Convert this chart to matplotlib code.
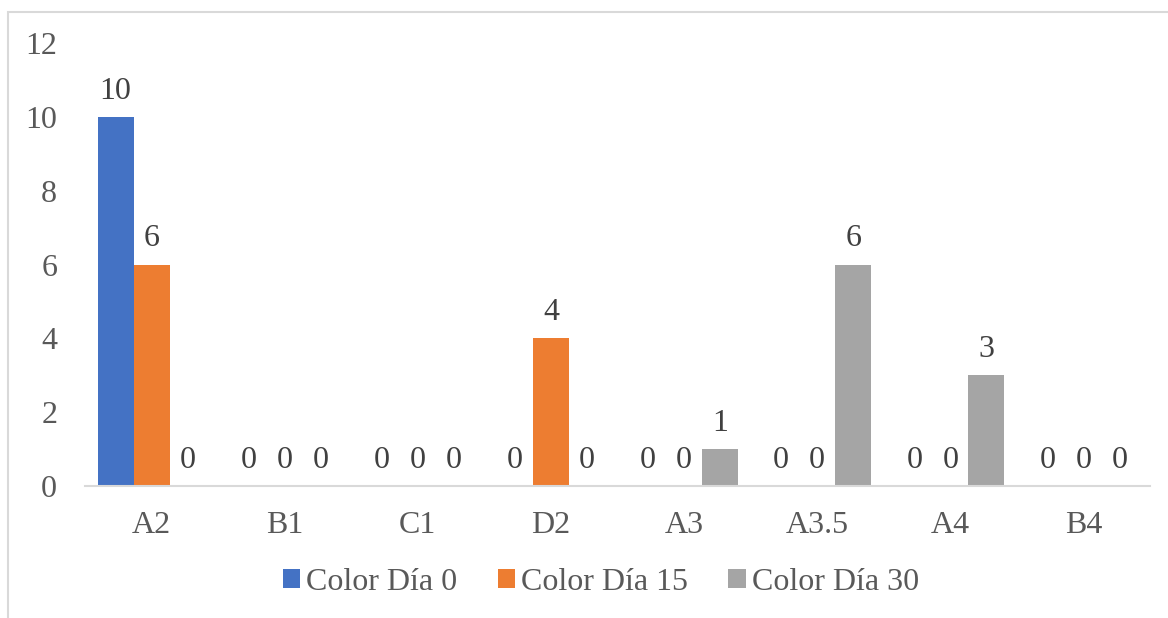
import matplotlib.pyplot as plt
import numpy as np
from matplotlib.patches import Rectangle

# color scores per sample at each day
categories = ["A2", "B1", "C1", "D2", "A3", "A3.5", "A4", "B4"]
dia_0 = [10, 0, 0, 0, 0, 0, 0, 0]
dia_15 = [6, 0, 0, 4, 0, 0, 0, 0]
dia_30 = [0, 0, 0, 0, 1, 6, 3, 0]
series_names = ["Color Día 0", "Color Día 15", "Color Día 30"]
colors = ["#4472C4", "#ED7D31", "#A5A5A5"]

plt.rcParams['font.family'] = ['Liberation Serif', 'DejaVu Serif']
FS = 23

fig = plt.figure(figsize=(11.68, 6.18), dpi=100)
# chart border (runs off the right and bottom edge)
fig.patches.append(Rectangle((7.5 / 1168, -0.1), 1.2, 1.1 - 12.5 / 618,
                             transform=fig.transFigure, fill=False,
                             edgecolor="#D9D9D9", linewidth=1.5))

ax = fig.add_axes([85 / 1168, (618 - 486) / 618, 1065 / 1168, 443 / 618])

x = np.arange(len(categories))
width = 0.27
for i, (vals, name, col) in enumerate(zip([dia_0, dia_15, dia_30],
                                          series_names, colors)):
    pos = x + (i - 1) * width
    ax.bar(pos, vals, width, color=col, label=name)
    for xp, v in zip(pos, vals):
        ax.annotate(f"{v}", (xp, v), xytext=(0, 8), textcoords="offset points",
                    ha="center", va="bottom", fontsize=FS, color="#404040")

ax.set_xlim(-0.5, len(categories) - 0.5)
ax.set_ylim(0, 12)
ax.set_yticks(range(0, 13, 2))
ax.set_xticks(x)
ax.set_xticklabels(categories)
ax.tick_params(axis="both", length=0, labelsize=FS, labelcolor="#595959")
ax.tick_params(axis="x", pad=18)
ax.tick_params(axis="y", pad=20)
for s in ["top", "right", "left"]:
    ax.spines[s].set_visible(False)
ax.spines["bottom"].set_color("#D9D9D9")
ax.spines["bottom"].set_linewidth(1.5)

leg = fig.legend(loc="center", bbox_to_anchor=(601 / 1168, 1 - 582 / 618),
                 ncol=3, frameon=False, fontsize=FS, handlelength=0.55,
                 handleheight=0.55, handletextpad=0.2, columnspacing=1.25,
                 borderpad=0)
for t in leg.get_texts():
    t.set_color("#595959")

fig.savefig("out.png", dpi=100)
